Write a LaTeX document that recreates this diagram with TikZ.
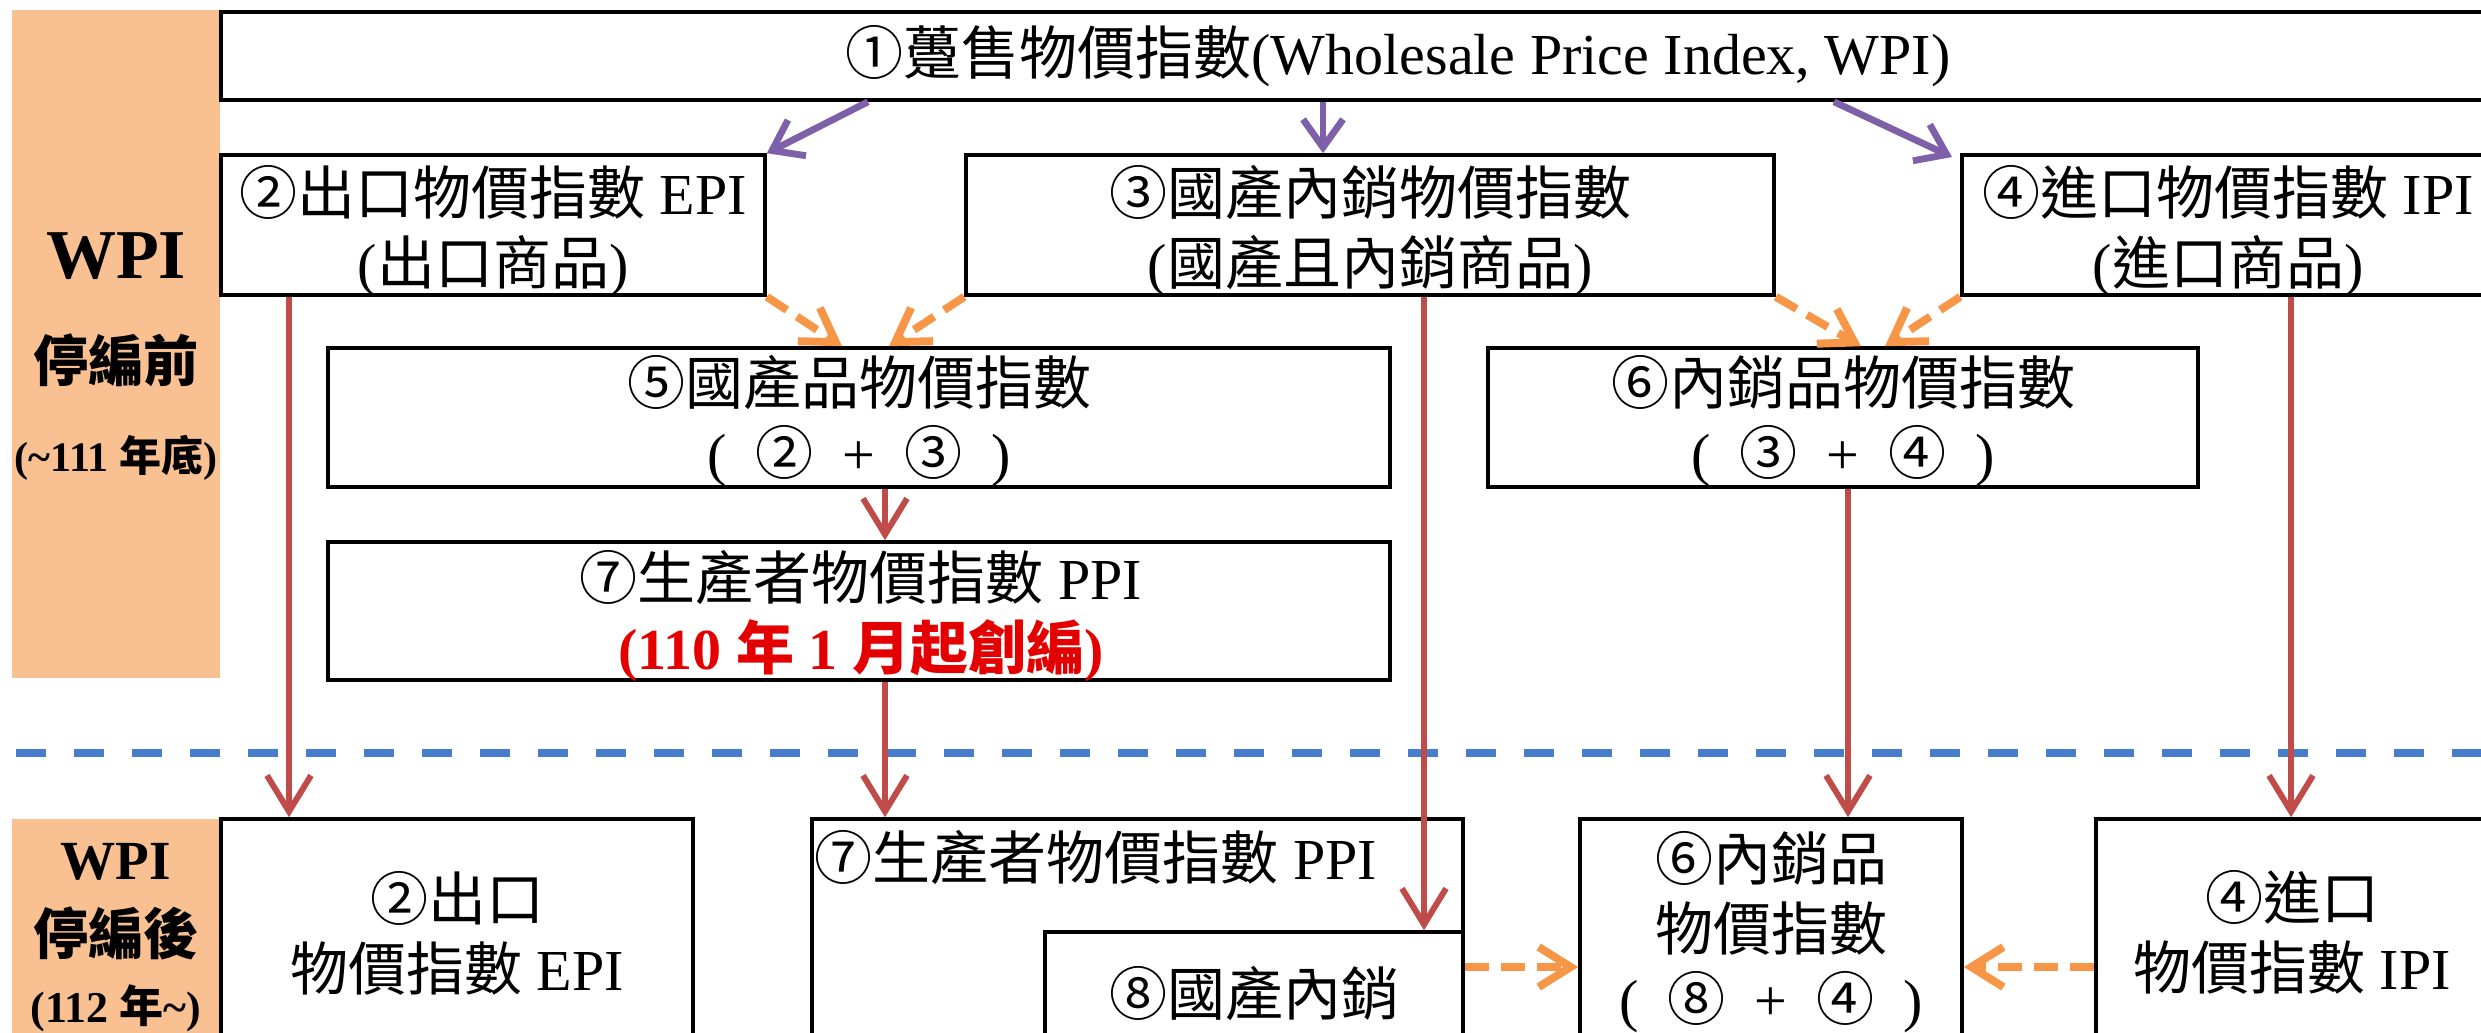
\documentclass[tikz,border=0pt]{standalone}
\usepackage{fontspec}
\setmainfont{Liberation Serif}
\newfontfamily\cj{Noto Sans CJK TC}
\usetikzlibrary{arrows.meta,fit}
\definecolor{sidebg}{RGB}{249,192,145}
\definecolor{purp}{RGB}{125,96,168}
\definecolor{redarr}{RGB}{192,76,74}
\definecolor{orng}{RGB}{247,150,70}
\definecolor{blued}{RGB}{70,125,205}
\definecolor{redtxt}{RGB}{228,0,0}
\newcommand\C[1]{{\cj #1}}
\newcommand\Sp{\hspace{0.5em}}
\begin{document}
\begin{tikzpicture}[x=0.25pt,y=-0.25pt,
  box/.style={draw=black,line width=0.9pt,fill=white,inner sep=0pt},
  txt/.style={inner sep=0pt,align=center,font=\fontsize{14.5pt}{17.5pt}\selectfont},
  sidebox/.style={fill=sidebg,draw=none,inner sep=0pt},
  parr/.style={draw=purp,line width=1.7pt,-{Straight Barb[length=7pt,width=10pt]}},
  rarr/.style={draw=redarr,line width=1.5pt,-{Straight Barb[length=9pt,width=11pt]}},
  oarr/.style={draw=orng,line width=2pt,dash pattern=on 6pt off 3pt,-{Straight Barb[length=8pt,width=10pt]}},
]
\useasboundingbox (0,0) rectangle (2481,1032);
\clip (0,0) rectangle (2481,1032);
\fill[white] (0,0) rectangle (2481,1032);

% side bands
\node[sidebox,fit={(12,10)(220,678)}] (sideA) {};
\node[sidebox,fit={(12,819)(220,1100)}] (sideB) {};
\node[inner sep=0pt,font=\fontsize{17.5pt}{19pt}\selectfont\bfseries] (wa) at (116,256) {WPI};
\node[inner sep=0pt,font=\fontsize{13.8pt}{16pt}\selectfont\bfseries] (sa) at (116,360) {\C{停編前}};
\node[inner sep=0pt,font=\fontsize{10.5pt}{12pt}\selectfont\bfseries] (ya) at (116,458) {(\textasciitilde111 \C{年底})};
\node[inner sep=0pt,font=\fontsize{13.8pt}{16pt}\selectfont\bfseries] (wb) at (116,862) {WPI};
\node[inner sep=0pt,font=\fontsize{13.8pt}{16pt}\selectfont\bfseries] (sb) at (116,933) {\C{停編後}};
\node[inner sep=0pt,font=\fontsize{11pt}{12pt}\selectfont\bfseries] (yb) at (116,1008) {(112 \C{年}\textasciitilde)};

% separator
\coordinate (dl) at (16,753);
\coordinate (dr) at (2481,753);
\draw[blued,line width=1.8pt,dash pattern=on 7.5pt off 7pt] (dl) -- (dr);

% upper boxes
\node[box,fit={(221,12)(2575,100)}] (n1) {};
\node[txt] (n1t) at (1398,56) {\C{①躉售物價指數}(Wholesale Price Index, WPI)};
\node[box,fit={(221,155)(765,295)}] (n2) {};
\node[txt] (n2t) at (493,231) {\C{②出口物價指數} EPI\\(\C{出口商品})};
\node[box,fit={(966,155)(1774,295)}] (n3) {};
\node[txt] (n3t) at (1370,231) {\C{③國產內銷物價指數}\\(\C{國產且內銷商品})};
\node[box,fit={(1962,155)(2494,295)}] (n4) {};
\node[txt] (n4t) at (2228,231) {\C{④進口物價指數} IPI\\(\C{進口商品})};
\node[box,fit={(328,348)(1390,487)}] (n5) {};
\node[txt] (n5t) at (859,421) {\C{⑤國產品物價指數}\\(\Sp\C{②}\Sp+\Sp\C{③}\Sp)};
\node[box,fit={(1488,348)(2198,487)}] (n6) {};
\node[txt] (n6t) at (1843,421) {\C{⑥內銷品物價指數}\\(\Sp\C{③}\Sp+\Sp\C{④}\Sp)};
\node[box,fit={(328,542)(1390,680)}] (n7) {};
\node[txt] (n7t) at (861,616) {\C{⑦生產者物價指數} PPI\\{\color{redtxt}\bfseries(110 \C{年} 1 \C{月起創編})}};

% lower boxes
\node[box,fit={(221,819)(693,1100)}] (b2) {};
\node[txt] (b2t) at (457,933) {\C{②出口}\\\C{物價指數} EPI};
\node[box,fit={(812,819)(1463,1100)}] (b7) {};
\node[txt,anchor=west] (b7t) at (814,857) {\C{⑦生產者物價指數} PPI};
\node[box,fit={(1045,932)(1463,1100)}] (b8) {};
\node[txt] (b8t) at (1254,993) {\C{⑧國產內銷}};
\node[box,fit={(1580,819)(1962,1100)}] (b6) {};
\node[txt] (b6t) at (1771,932) {\C{⑥內銷品}\\\C{物價指數}\\(\Sp\C{⑧}\Sp+\Sp\C{④}\Sp)};
\node[box,fit={(2096,819)(2490,1100)}] (b4) {};
\node[txt] (b4t) at (2292,932) {\C{④進口}\\\C{物價指數} IPI};

% x positions
\coordinate (xp1) at (868,0);
\coordinate (xp2) at (1323,0);
\coordinate (xp3) at (1834,0);
\coordinate (xo1) at (842,0);
\coordinate (xo2) at (889,0);
\coordinate (xo3) at (1861,0);
\coordinate (xo4) at (1885,0);
\coordinate (xr1) at (289,0);
\coordinate (xr2) at (885,0);
\coordinate (xr3) at (1424,0);
\coordinate (xr4) at (1848,0);
\coordinate (xr5) at (2291,0);
\coordinate (yh) at (0,967);
\coordinate (p4) at (1952,157);

% purple arrows
\draw[parr] (n1.south -| xp1) -- (n2.north east);
\draw[parr] (n1.south -| xp2) -- (n3.north -| xp2);
\draw[parr] (n1.south -| xp3) -- (p4);

% orange dashed arrows
\draw[oarr] (n2.south east) -- (n5.north -| xo1);
\draw[oarr] (n3.south west) -- (n5.north -| xo2);
\draw[oarr] (n3.south east) -- (n6.north -| xo3);
\draw[oarr] (n4.south west) -- (n6.north -| xo4);

% red arrows
\draw[rarr] (n2.south -| xr1) -- (b2.north -| xr1);
\draw[rarr] (n5.south -| xr2) -- (n7.north -| xr2);
\draw[rarr] (n7.south -| xr2) -- (b7.north -| xr2);
\draw[rarr] (n3.south -| xr3) -- (b8.north -| xr3);
\draw[rarr] (n6.south -| xr4) -- (b6.north -| xr4);
\draw[rarr] (n4.south -| xr5) -- (b4.north -| xr5);

% lower orange arrows
\draw[oarr] (b8.east |- yh) -- (b6.west |- yh);
\draw[oarr] (b4.west |- yh) -- (b6.east |- yh);
\end{tikzpicture}
\end{document}
